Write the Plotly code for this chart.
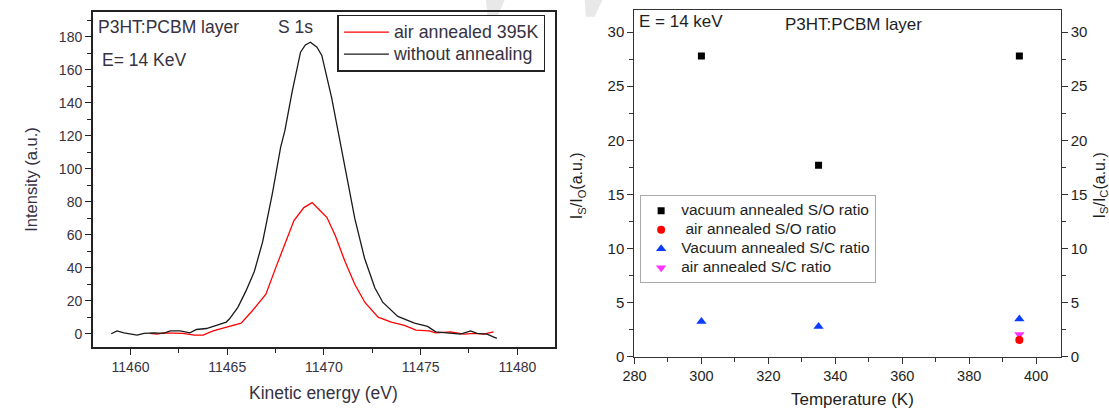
import plotly.graph_objects as go

# ---------------- data: left panel (S 1s spectra) ----------------
energy_no_anneal = [11459.0, 11459.3, 11459.66, 11460.34, 11460.7, 11461.2, 11461.7, 11462.05,
                    11462.56, 11463.07, 11463.41, 11463.92, 11464.44, 11464.95, 11465.12, 11465.55,
                    11465.97, 11466.4, 11466.83, 11467.34, 11467.76, 11467.98, 11468.36, 11468.79,
                    11469.04, 11469.3, 11469.64, 11469.89, 11470.4, 11470.75, 11471.18, 11471.6,
                    11472.1, 11472.63, 11473.05, 11473.82, 11474.68, 11475.36, 11475.78, 11476.55,
                    11477.06, 11477.58, 11477.92, 11478.43, 11478.94]
intensity_no_anneal = [0.0, 1.8, 0.6, -0.8, 0.2, 0.6, 0.2, 1.8,
                       1.8, 0.6, 2.6, 3.2, 5.1, 7.1, 9.1, 16.0,
                       26.0, 37.8, 55.7, 85.4, 113.0, 123.1, 146.9, 170.7,
                       175.1, 176.7, 173.7, 168.7, 143.0, 121.1, 95.3, 69.6,
                       45.8, 27.9, 19.0, 10.5, 6.5, 4.5, 1.2, 0.6,
                       -0.2, 1.8, 0.2, -0.2, -2.8]

energy_air_395 = [11461.0, 11461.37, 11461.7, 11462.2, 11462.7, 11463.3, 11463.75, 11464.27,
                  11464.95, 11465.72, 11466.31, 11467.0, 11467.5, 11468.02, 11468.45, 11468.96,
                  11469.39, 11469.73, 11470.15, 11470.58, 11471.09, 11471.6, 11472.12, 11472.8,
                  11473.48, 11474.16, 11474.76, 11475.44, 11475.78, 11476.55, 11477.24, 11477.75,
                  11478.26, 11478.77]
intensity_air_395 = [0.2, -0.2, 0.6, 0.6, 0.2, -0.8, -0.8, 1.8,
                     4.1, 6.5, 14.1, 24.0, 39.8, 55.7, 68.6, 76.5,
                     79.5, 75.5, 70.6, 59.7, 43.8, 29.9, 19.0, 10.1,
                     7.1, 5.1, 2.2, 1.8, 0.6, 1.2, -0.2, 0.2,
                     -0.2, 1.2]

# ---------------- data: right panel (ratios vs temperature) ----------------
temp_vac_so = [300, 335, 395]
ratio_vac_so = [27.8, 17.7, 27.8]
temp_air_so = [395]
ratio_air_so = [1.55]
temp_vac_sc = [300, 335, 395]
ratio_vac_sc = [3.26, 2.8, 3.48]
temp_air_sc = [395]
ratio_air_sc = [2.06]

left_ticks = [11460, 11465, 11470, 11475, 11480]

W, H = 1109, 416
def px(x):
    return x / W
def py(y):
    return 1 - y / H

LEFT_TXT = "#36323f"
RIGHT_TXT = "#1e1e1e"
FONT = "Liberation Sans, Arial, sans-serif"

def sized(text, size):
    return f'<span style="font-size:{size}px">{text}</span>'

fig = go.Figure()

fig.add_trace(go.Scatter(x=energy_air_395, y=intensity_air_395, mode="lines",
                         name=sized("air annealed 395K", 17.8),
                         line=dict(color="#ff0000", width=1.3),
                         xaxis="x", yaxis="y", legend="legend"))
fig.add_trace(go.Scatter(x=energy_no_anneal, y=intensity_no_anneal, mode="lines",
                         name=sized("without annealing", 17.8),
                         line=dict(color="#1a1a1a", width=1.3),
                         xaxis="x", yaxis="y", legend="legend"))

fig.add_trace(go.Scatter(x=temp_vac_so, y=ratio_vac_so, mode="markers",
                         name=sized("vacuum annealed S/O ratio", 15.5),
                         marker=dict(symbol="square", color="#000000", size=7),
                         xaxis="x2", yaxis="y2", legend="legend2", legendrank=1))
fig.add_trace(go.Scatter(x=temp_vac_sc, y=ratio_vac_sc, mode="markers",
                         name=sized("Vacuum annealed S/C ratio", 15.5),
                         marker=dict(symbol="triangle-up", color="#0a3cff", size=9),
                         xaxis="x2", yaxis="y2", legend="legend2", legendrank=3))
fig.add_trace(go.Scatter(x=temp_air_sc, y=ratio_air_sc, mode="markers",
                         name=sized("air annealed S/C ratio", 15.5),
                         marker=dict(symbol="triangle-down", color="#ff33ff", size=9),
                         xaxis="x2", yaxis="y2", legend="legend2", legendrank=4))
fig.add_trace(go.Scatter(x=temp_air_so, y=ratio_air_so, mode="markers",
                         name=sized("&#160;air annealed S/O ratio", 15.5),
                         marker=dict(symbol="circle", color="#ff0000", size=8),
                         xaxis="x2", yaxis="y2", legend="legend2", legendrank=2))
# carrier for the right-hand ratio axis (same S/O values, invisible)
fig.add_trace(go.Scatter(x=temp_vac_so, y=ratio_vac_so, mode="markers",
                         marker=dict(opacity=0), showlegend=False, hoverinfo="skip",
                         xaxis="x2", yaxis="y3"))

axis_common = dict(showgrid=False, zeroline=False, showline=True, mirror=True,
                   ticks="outside", ticklen=6, tickwidth=1.2)

fig.update_layout(
    width=W, height=H,
    margin=dict(l=0, r=0, t=0, b=0),
    paper_bgcolor="white", plot_bgcolor="white",
    font=dict(family=FONT),
    xaxis=dict(domain=[px(81.7), px(549)], range=[11458.05, 11481.95], anchor="y",
               tickvals=left_ticks, tickformat="d", linecolor="#222", linewidth=1.6,
               tickcolor="#222", tickfont=dict(size=14, color=LEFT_TXT),
               minor=dict(ticks="outside", ticklen=4, dtick=2.5, tickcolor="#222"),
               **axis_common),
    yaxis=dict(domain=[py(354.3), py(12.3)], range=[-8.3, 195], anchor="x",
               dtick=20, tick0=0, linecolor="#222", linewidth=1.6, tickcolor="#222",
               tickfont=dict(size=14, color=LEFT_TXT),
               minor=dict(ticks="outside", ticklen=4, dtick=10, tickcolor="#222"),
               **axis_common),
    xaxis2=dict(domain=[px(629.3), px(1060)], range=[280, 407.3], anchor="y2",
                dtick=20, tick0=280, linecolor="#333", linewidth=1.4, tickcolor="#333",
                tickfont=dict(size=14.5, color=RIGHT_TXT),
                minor=dict(ticks="outside", ticklen=4, dtick=10, tickcolor="#333"),
                **axis_common),
    yaxis2=dict(domain=[py(363.7), py(10)], range=[0, 32.06], anchor="x2",
                dtick=5, tick0=0, linecolor="#333", linewidth=1.4, tickcolor="#333",
                tickfont=dict(size=15, color=RIGHT_TXT),
                minor=dict(ticks="outside", ticklen=4, dtick=2.5, tickcolor="#333"),
                **axis_common),
    yaxis3=dict(overlaying="y2", side="right", anchor="x2", range=[0, 32.06],
                dtick=5, tick0=0, showgrid=False, zeroline=False, showline=True,
                linecolor="#333", linewidth=1.4, ticks="outside", ticklen=6,
                tickwidth=1.2, tickcolor="#333", tickfont=dict(size=15, color=RIGHT_TXT),
                minor=dict(ticks="outside", ticklen=4, dtick=2.5, tickcolor="#333")),
    legend=dict(x=px(329), y=py(15), xanchor="left", yanchor="top",
                bordercolor="#222", borderwidth=1.5, bgcolor="white",
                font=dict(size=14.6, color=LEFT_TXT), itemwidth=45,
                tracegroupgap=0),
    legend2=dict(x=px(635), y=py(199), xanchor="left", yanchor="top",
                 bordercolor="#aaaaaa", borderwidth=1, bgcolor="white",
                 font=dict(size=11.9, color=RIGHT_TXT), tracegroupgap=0),
)

annotations = [
    # left panel labels
    dict(text="P3HT:PCBM layer", x=px(85), y=py(28), xanchor="left", yanchor="middle",
         font=dict(size=17.5, color=LEFT_TXT)),
    dict(text="S 1s", x=px(267), y=py(28), xanchor="left", yanchor="middle",
         font=dict(size=17.5, color=LEFT_TXT)),
    dict(text="E= 14 KeV", x=px(89), y=py(61), xanchor="left", yanchor="middle",
         font=dict(size=17.5, color=LEFT_TXT)),
    dict(text="Kinetic energy (eV)", x=px(314.5), y=py(401), xanchor="center", yanchor="middle",
         font=dict(size=17.5, color=LEFT_TXT)),
    dict(text="Intensity (a.u.)", x=px(19), y=py(182.5), xanchor="center", yanchor="middle",
         textangle=-90, font=dict(size=16.5, color=LEFT_TXT)),
    # right panel labels
    dict(text="E = 14 keV", x=px(632), y=py(22), xanchor="left", yanchor="middle",
         font=dict(size=17, color=RIGHT_TXT)),
    dict(text="P3HT:PCBM layer", x=px(779), y=py(25), xanchor="left", yanchor="middle",
         font=dict(size=17, color=RIGHT_TXT)),
    dict(text="Temperature (K)", x=px(850), y=py(407), xanchor="center", yanchor="middle",
         font=dict(size=17, color=RIGHT_TXT)),
    dict(text="I<sub>S</sub>/I<sub>O</sub>(a.u.)", x=px(572), y=py(189), xanchor="center",
         yanchor="middle", textangle=-90, font=dict(size=16, color=RIGHT_TXT)),
    dict(text="I<sub>S</sub>/I<sub>C</sub>(a.u.)", x=px(1100), y=py(189), xanchor="center",
         yanchor="middle", textangle=-90, font=dict(size=16, color=RIGHT_TXT)),
]
for a in annotations:
    a.update(xref="paper", yref="paper", showarrow=False)
fig.update_layout(annotations=annotations)

# faint watermark fragments at the top
def poly(points):
    return "M " + " L ".join(f"{px(x):.4f},{py(y):.4f}" for x, y in points) + " Z"

fig.update_layout(shapes=[
    dict(type="path", xref="paper", yref="paper", layer="below", line=dict(width=0),
         fillcolor="#e8e8e8", path=poly([(479, 0), (498, 0), (490, 19), (481, 19)])),
    dict(type="path", xref="paper", yref="paper", layer="below", line=dict(width=0),
         fillcolor="#e8e8e8", path=poly([(579, 0), (597, 0), (589, 17), (580, 17)])),
])

fig.write_html("out.html")
